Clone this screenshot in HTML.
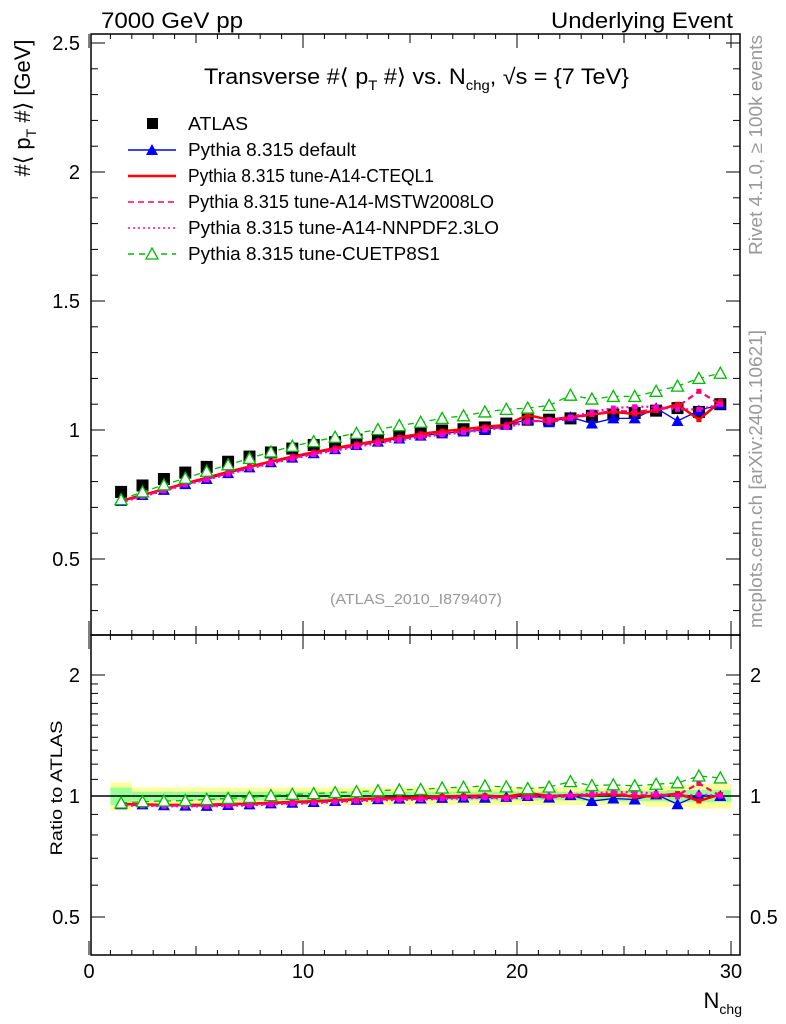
<!DOCTYPE html>
<html><head><meta charset="utf-8"><style>
body{margin:0;background:#fff}
svg{display:block;font-family:"Liberation Sans",sans-serif}
</style></head><body>
<svg id="c" width="786" height="1024" viewBox="0 0 786 1024" xmlns="http://www.w3.org/2000/svg">
<text x="101" y="28" font-size="22" textLength="142" lengthAdjust="spacingAndGlyphs">7000 GeV pp</text>
<text x="551" y="28" font-size="22" textLength="182" lengthAdjust="spacingAndGlyphs">Underlying Event</text>
<text x="204" y="84" font-size="22" textLength="425" lengthAdjust="spacingAndGlyphs">Transverse #⟨ p<tspan font-size="14" dy="6">T</tspan><tspan dy="-6"> #⟩ vs. N</tspan><tspan font-size="14" dy="6">chg</tspan><tspan dy="-6">, √s = {7 TeV}</tspan></text>
<text transform="translate(30,108) rotate(-90)" font-size="22" text-anchor="middle">#⟨ p<tspan font-size="14" dy="6">T</tspan><tspan dy="-6"> #⟩ [GeV]</tspan></text>
<text transform="translate(62,788) rotate(-90)" font-size="17" text-anchor="middle" textLength="135" lengthAdjust="spacingAndGlyphs">Ratio to ATLAS</text>
<text x="742" y="1008" font-size="22" text-anchor="end">N<tspan font-size="14" dy="6">chg</tspan></text>
<text transform="translate(762,255) rotate(-90)" font-size="18" fill="#999" textLength="220" lengthAdjust="spacingAndGlyphs">Rivet 4.1.0, ≥ 100k events</text>
<text transform="translate(762,628) rotate(-90)" font-size="18" fill="#999" textLength="298" lengthAdjust="spacingAndGlyphs">mcplots.cern.ch [arXiv:2401.10621]</text>
<text x="330" y="604" font-size="15" fill="#999" textLength="172" lengthAdjust="spacingAndGlyphs">(ATLAS_2010_I879407)</text>
<g id="g"></g>
</svg>
<script>
const nchg=[1.5,2.5,3.5,4.5,5.5,6.5,7.5,8.5,9.5,10.5,11.5,12.5,13.5,14.5,15.5,16.5,17.5,18.5,19.5,20.5,21.5,22.5,23.5,24.5,25.5,26.5,27.5,28.5,29.5];
const atlas=[0.76,0.785,0.81,0.835,0.857,0.877,0.897,0.913,0.928,0.942,0.953,0.963,0.972,0.982,0.992,0.998,1.003,1.01,1.025,1.04,1.04,1.045,1.055,1.06,1.066,1.075,1.085,1.07,1.10];
const pyDefault=[0.725,0.748,0.768,0.79,0.81,0.833,0.855,0.875,0.893,0.91,0.926,0.942,0.955,0.967,0.978,0.987,0.994,1.0,1.02,1.04,1.03,1.05,1.025,1.045,1.045,1.085,1.035,1.075,1.10];
const pyCteq=[0.725,0.748,0.77,0.793,0.815,0.838,0.858,0.878,0.897,0.914,0.93,0.945,0.958,0.972,0.985,0.995,1.003,1.012,1.02,1.058,1.04,1.05,1.06,1.07,1.062,1.075,1.10,1.04,1.11];
const pyMstw=[0.722,0.745,0.767,0.79,0.81,0.832,0.853,0.873,0.892,0.908,0.924,0.94,0.953,0.965,0.976,0.986,0.995,1.005,1.012,1.038,1.03,1.045,1.06,1.075,1.07,1.08,1.09,1.15,1.10];
const pyNnpdf=[0.72,0.742,0.764,0.787,0.807,0.829,0.85,0.87,0.888,0.905,0.92,0.935,0.948,0.96,0.972,0.982,0.99,1.0,1.01,1.03,1.04,1.05,1.07,1.085,1.09,1.09,1.08,1.08,1.10];
const pyCuetp=[0.73,0.76,0.787,0.813,0.84,0.865,0.89,0.915,0.937,0.955,0.972,0.987,1.002,1.017,1.03,1.045,1.055,1.07,1.08,1.085,1.095,1.135,1.12,1.13,1.13,1.15,1.17,1.20,1.22];
const bandYellow=[0.08,0.05,0.05,0.05,0.05,0.05,0.05,0.05,0.05,0.05,0.05,0.05,0.05,0.05,0.05,0.05,0.05,0.05,0.05,0.05,0.05,0.05,0.05,0.05,0.05,0.06,0.06,0.07,0.07];
const bandGreen=[0.05,0.025,0.025,0.025,0.025,0.025,0.025,0.025,0.025,0.025,0.025,0.025,0.025,0.025,0.025,0.025,0.025,0.025,0.025,0.025,0.025,0.025,0.03,0.03,0.03,0.03,0.035,0.035,0.035];
const mainTicks=["0.5","1","1.5","2","2.5"];
const ratioTicks=["0.5","1","2"];
const xTicks=["0","10","20","30"];

const NS="http://www.w3.org/2000/svg";
const g=document.getElementById('g');
const L=91,R=740,T=34,MB=635,RB=955;
const X=v=>89+21.4*v;
const Y=v=>430-(v-1)*258;
const YR=v=>796-Math.log2(v)*121;
function el(t,a,p){const e=document.createElementNS(NS,t);for(const k in a)e.setAttribute(k,a[k]);(p||g).appendChild(e);return e;}

nchg.forEach((n,i)=>{
  const x0=X(n-0.5),x1=X(n+0.5);
  const y=el('rect',{x:x0,y:YR(1+bandYellow[i]),width:x1-x0,height:YR(1-bandYellow[i])-YR(1+bandYellow[i]),fill:'#ffff99'});
  
  
  const gr=el('rect',{x:x0,y:YR(1+bandGreen[i]),width:x1-x0,height:YR(1-bandGreen[i])-YR(1+bandGreen[i]),fill:'#99ff99'});
  
  
});
el('line',{x1:L,x2:R,y1:796,y2:796,stroke:'#000','stroke-width':1.5});

const f1=el('rect',{x:L,y:T,width:R-L,height:MB-T,fill:'none',stroke:'#000','stroke-width':1.5});


const f2=el('rect',{x:L,y:MB,width:R-L,height:RB-MB,fill:'none',stroke:'#000','stroke-width':1.5});



for(let v=0;v<=30;v++){
  const major=v%10===0, mid=v%5===0;
  const len=major?14:(mid?9:5);
  [[T,1],[MB,-1],[MB,1],[RB,-1]].forEach(([y,d])=>el('line',{x1:X(v),x2:X(v),y1:y,y2:y+d*len,stroke:'#000'}));
}
xTicks.forEach(t=>{const e=el('text',{x:X(+t),y:978,'font-size':20,'text-anchor':'middle'});e.textContent=t;
  
  });
for(let v=0.3;v<=2.5001;v+=0.1){
  const major=Math.abs(v*2-Math.round(v*2))<1e-6;
  const len=major?14:7;
  el('line',{x1:L,x2:L+len,y1:Y(v),y2:Y(v),stroke:'#000'});
  el('line',{x1:R,x2:R-len,y1:Y(v),y2:Y(v),stroke:'#000'});
}
mainTicks.forEach(t=>{const e=el('text',{x:80,y:Y(+t)+7,'font-size':20,'text-anchor':'end'});e.textContent=t;
  
  });
[0.5,0.6,0.7,0.8,0.9,1,1.1,1.2,1.3,1.4,1.5,1.6,1.7,1.8,1.9,2].forEach(v=>{
  const major=(v===0.5||v===1||v===2);const len=major?14:7;
  el('line',{x1:L,x2:L+len,y1:YR(v),y2:YR(v),stroke:'#000'});
  el('line',{x1:R,x2:R-len,y1:YR(v),y2:YR(v),stroke:'#000'});
});
ratioTicks.forEach(t=>{
  const e=el('text',{x:80,y:YR(+t)+7,'font-size':20,'text-anchor':'end'});e.textContent=t;
  
  
  const e2=el('text',{x:750,y:YR(+t)+7,'font-size':20});e2.textContent=t;
  
  
});

const series=[
 {name:'pythia-default',data:pyDefault,color:'#0000ff',dash:'',w:1.3,mk:'tri'},
 {name:'pythia-a14-cteql1',data:pyCteq,color:'#ff0000',dash:'',w:2.5,mk:'dot'},
 {name:'pythia-a14-mstw2008lo',data:pyMstw,color:'#ff0066',dash:'6,4',w:2.2,mk:'dot'},
 {name:'pythia-a14-nnpdf23lo',data:pyNnpdf,color:'#ff00cc',dash:'2,3',w:2.2,mk:'dot'},
 {name:'pythia-cuetp8s1',data:pyCuetp,color:'#00bb00',dash:'6,5',w:1.3,mk:'otri'}
];
function marker(kind,x,y,color,name){
  let e;
  if(kind==='tri') e=el('path',{d:`M${x} ${y-6}L${x+6} ${y+5}L${x-6} ${y+5}Z`,fill:color});
  else if(kind==='otri') e=el('path',{d:`M${x} ${y-6}L${x+6} ${y+5}L${x-6} ${y+5}Z`,fill:'#fff',stroke:color,'stroke-width':1.3});
  else e=el('rect',{x:x-2.5,y:y-2.5,width:5,height:5,fill:color});
  
  
}
function draw(Yf,ratio){
  if(!ratio) atlas.forEach((v,i)=>{
    const e=el('rect',{x:X(nchg[i])-6,y:Y(v)-6,width:12,height:12,fill:'#000'});
    
    
  });
  series.forEach(s=>{
    const vals=s.data.map((v,i)=>ratio?v/atlas[i]:v);
    const p=el('polyline',{points:vals.map((v,i)=>X(nchg[i])+','+Yf(v)).join(' '),fill:'none',stroke:s.color,'stroke-width':s.w,'stroke-dasharray':s.dash});
    
    
    vals.forEach((v,i)=>marker(s.mk,X(nchg[i]),Yf(v),s.color,s.name+'-point'));
  });
}
draw(Y,false);
draw(YR,true);

const leg=[['ATLAS','sq','#000',''],['Pythia 8.315 default','tri','#0000ff',''],['Pythia 8.315 tune-A14-CTEQL1','dot','#ff0000',''],
['Pythia 8.315 tune-A14-MSTW2008LO','dot','#ff0066','6,4'],['Pythia 8.315 tune-A14-NNPDF2.3LO','dot','#ff00cc','2,3'],['Pythia 8.315 tune-CUETP8S1','otri','#00bb00','6,5']];
const legW=[60,168,246,306,311,252];
leg.forEach((l,i)=>{
  const y=124+i*26;
  if(l[1]==='sq'){const r=el('rect',{x:147,y:y-6,width:11,height:11,fill:'#000'});}
  else{
    const ln=el('line',{x1:128,x2:176,y1:y,y2:y,stroke:l[2],'stroke-width':l[0].includes('CTEQ')?2.5:1.5,'stroke-dasharray':l[3]});
    
    
    if(l[1]!=='dot') marker(l[1],152,y,l[2],'legend-marker');
  }
  const t=el('text',{x:188,y:y+6,'font-size':18,textLength:legW[i],lengthAdjust:'spacingAndGlyphs'});t.textContent=l[0];
  
  
});
</script>
</body></html>
